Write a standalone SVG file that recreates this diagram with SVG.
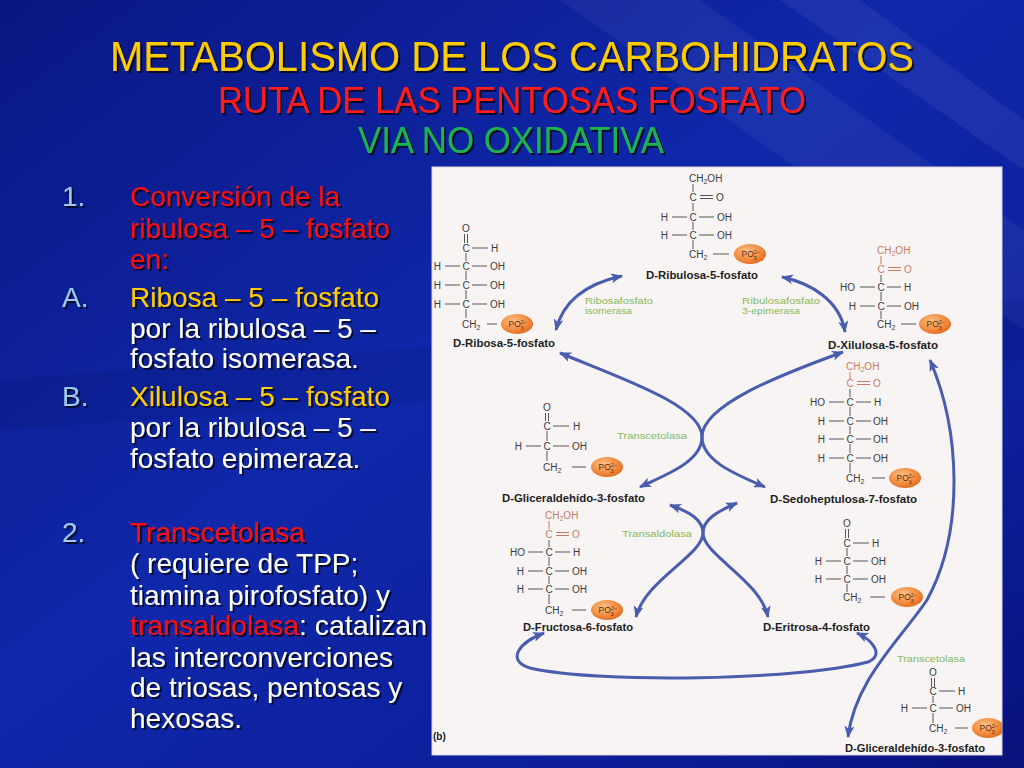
<svg xmlns="http://www.w3.org/2000/svg" width="1024" height="768" viewBox="0 0 1024 768">
<defs>
<linearGradient id="bg" x1="0" y1="0" x2="1" y2="1">
<stop offset="0" stop-color="#0a1682"/>
<stop offset="0.45" stop-color="#0f28aa"/>
<stop offset="0.75" stop-color="#0c1f9c"/>
<stop offset="1" stop-color="#08127c"/>
</linearGradient>
<radialGradient id="org" cx="0.4" cy="0.35" r="0.7">
<stop offset="0" stop-color="#fcc189"/>
<stop offset="0.6" stop-color="#f28d40"/>
<stop offset="1" stop-color="#e0691d"/>
</radialGradient>
<filter id="sh" x="-5%" y="-20%" width="110%" height="140%">
<feDropShadow dx="2" dy="2" stdDeviation="0.6" flood-color="#000" flood-opacity="0.7"/>
</filter>
<marker id="ah" viewBox="0 0 12 10" refX="11" refY="5" markerWidth="12" markerHeight="10" markerUnits="userSpaceOnUse" orient="auto-start-reverse">
<path d="M0,0 L12,5 L0,10 L3,5 z" fill="#4a5cae"/>
</marker>
<clipPath id="pc"><rect x="432" y="167" width="570" height="588"/></clipPath>
<style>
.tt{font-family:"Liberation Sans",Arial,sans-serif;text-anchor:middle}
.bt{font-family:"Liberation Sans",Arial,sans-serif;font-size:28px;fill:#ffffff}
.num{fill:#9ccbef}
.red{fill:#ff1010}
.yel{fill:#ffcc00}
.t{font-family:"Liberation Sans",Arial,sans-serif;font-size:10px;fill:#3b3b3b}
.e{text-anchor:end}
.m{text-anchor:middle}
.k{fill:#c97a62}
.bd{stroke:#555;stroke-width:1;fill:none}
.bk{stroke:#c97a62}
.sub{font-size:7px}
.lab{font-family:"Liberation Sans",Arial,sans-serif;font-size:10px;font-weight:bold;fill:#1e1e1e}
.enz{font-family:"Liberation Sans",Arial,sans-serif;font-size:9px;fill:#86b95a}
.pt{font-family:"Liberation Sans",Arial,sans-serif;font-size:8.5px;fill:#5b2a0e}
.ps{font-size:5.5px}
.arr{fill:none;stroke:#4a5cae;stroke-width:3;marker-start:url(#ah);marker-end:url(#ah)}
</style>
</defs>

<rect width="1024" height="768" fill="url(#bg)"/>
<path d="M560,0 L700,0 L1024,230 L1024,330 Z" fill="#ffffff" opacity="0.05"/>
<path d="M780,0 L860,0 L1024,120 L1024,170 Z" fill="#ffffff" opacity="0.06"/>
<path d="M0,380 L1024,300 L1024,360 L0,430 Z" fill="#000033" opacity="0.08"/>

<g id="title" filter="url(#sh)">
<text class="tt" x="512" y="71" font-size="42" fill="#ffcc00" textLength="804" lengthAdjust="spacingAndGlyphs">METABOLISMO DE LOS CARBOHIDRATOS</text>
<text class="tt" x="512" y="113" font-size="37" fill="#ff1a1a" textLength="588" lengthAdjust="spacingAndGlyphs">RUTA DE LAS PENTOSAS FOSFATO</text>
<text class="tt" x="511" y="153" font-size="37" fill="#1db350" textLength="306" lengthAdjust="spacingAndGlyphs">VIA NO OXIDATIVA</text>
</g>

<rect x="432" y="167" width="570" height="588" fill="#f8f4f4" stroke="#d8d4e0" stroke-width="1"/>

<g id="body" filter="url(#sh)">
<text class="bt num" x="62" y="206" font-size="24">1.</text>
<text class="bt red" x="130" y="206">Conversión de la</text>
<text class="bt red" x="130" y="238">ribulosa – 5 – fosfato</text>
<text class="bt red" x="130" y="269">en:</text>
<text class="bt num" x="62" y="307" font-size="26">A.</text>
<text class="bt yel" x="130" y="307">Ribosa – 5 – fosfato</text>
<text class="bt" x="130" y="338">por la ribulosa – 5 –</text>
<text class="bt" x="130" y="368">fosfato isomerasa.</text>
<text class="bt num" x="62" y="406" font-size="26">B.</text>
<text class="bt yel" x="130" y="406">Xilulosa – 5 – fosfato</text>
<text class="bt" x="130" y="437">por la ribulosa – 5 –</text>
<text class="bt" x="130" y="468">fosfato epimeraza.</text>
<text class="bt num" x="62" y="542" font-size="26">2.</text>
<text class="bt red" x="130" y="542">Transcetolasa</text>
<text class="bt" x="130" y="573">( requiere de TPP;</text>
<text class="bt" x="130" y="605">tiamina pirofosfato) y</text>
<text class="bt" x="130" y="635" textLength="297" lengthAdjust="spacingAndGlyphs"><tspan class="red">transaldolasa</tspan>: catalizan</text>
<text class="bt" x="130" y="667">las interconverciones</text>
<text class="bt" x="130" y="697">de triosas, pentosas y</text>
<text class="bt" x="130" y="728">hexosas.</text>
</g>

<g id="connectors">
<path class="arr" d="M556,330 C562,305 580,285 622,276"/>
<path class="arr" d="M782,277 C810,283 840,300 845,332"/>
<path class="arr" d="M560,353 C620,378 702,405 702,437 C702,462 665,475 640,487"/>
<path class="arr" d="M843,352 C780,375 702,405 702,437 C702,462 740,476 765,487"/>
<path class="arr" d="M670,505 C690,512 703,520 703,533 C703,555 645,580 636,617"/>
<path class="arr" d="M737,503 C716,512 703,520 703,533 C703,555 760,580 768,617"/>
<path class="arr" d="M544,633 C520,642 505,660 530,668 C600,684 800,680 868,662 C885,655 872,640 857,633"/>
<path class="arr" d="M930,360 C960,430 965,530 927,600 C900,640 855,680 848,737"/>
</g>

<g id="enzymes">
<text class="enz" x="585" y="304" textLength="68" lengthAdjust="spacingAndGlyphs">Ribosafosfato</text>
<text class="enz" x="585" y="314" textLength="47" lengthAdjust="spacingAndGlyphs">isomerasa</text>
<text class="enz" x="742" y="304" textLength="78" lengthAdjust="spacingAndGlyphs">Ribulosafosfato</text>
<text class="enz" x="742" y="314" textLength="58" lengthAdjust="spacingAndGlyphs">3-epimerasa</text>
<text class="enz" x="617" y="439" textLength="70" lengthAdjust="spacingAndGlyphs">Transcetolasa</text>
<text class="enz" x="622" y="537" textLength="70" lengthAdjust="spacingAndGlyphs">Transaldolasa</text>
<text class="enz" x="897" y="662" textLength="68" lengthAdjust="spacingAndGlyphs">Transcetolasa</text>
</g>

<g id="ribosa5p">
<text class="t m" x="466" y="231.6">O</text>
<path class="bd" d="M464.5,234V243M467.5,234V243"/>
<text class="t m" x="466" y="251.6">C</text>
<path class="bd" d="M472,248H488"/>
<text class="t" x="491" y="251.6">H</text>
<path class="bd" d="M466,253V261M466,271V280M466,290V299M466,309V318"/>
<text class="t e" x="441" y="269.6">H</text><text class="t m" x="466" y="269.6">C</text><text class="t" x="490" y="269.6">OH</text>
<text class="t e" x="441" y="288.6">H</text><text class="t m" x="466" y="288.6">C</text><text class="t" x="490" y="288.6">OH</text>
<text class="t e" x="441" y="307.6">H</text><text class="t m" x="466" y="307.6">C</text><text class="t" x="490" y="307.6">OH</text>
<path class="bd" d="M445,266H460M472,266H487M445,285H460M472,285H487M445,304H460M472,304H487"/>
<text class="t" x="462" y="327.6">CH<tspan class="sub" dy="2.5">2</tspan></text>
<path class="bd" d="M487,324H497"/>
<ellipse cx="517" cy="324" rx="16" ry="10" fill="url(#org)"/>
<text class="pt" x="508.5" y="327">PO<tspan class="ps" dy="-3">2−</tspan><tspan class="ps" dx="-6.5" dy="5.5">3</tspan></text>
<text class="lab" x="453" y="346.5" textLength="102" lengthAdjust="spacingAndGlyphs">D-Ribosa-5-fosfato</text>
</g>

<g id="ribulosa5p">
<text class="t" x="689" y="181.6">CH<tspan class="sub" dy="2.5">2</tspan><tspan dy="-2.5">OH</tspan></text>
<path class="bd" d="M693,184V192M693,203V211M693,222V230M693,240V249"/>
<text class="t m" x="693" y="200.6">C</text>
<path class="bd" d="M700,195.5H713M700,198.5H713"/>
<text class="t" x="716" y="200.6">O</text>
<text class="t e" x="668" y="220.6">H</text><text class="t m" x="693" y="220.6">C</text><text class="t" x="717" y="220.6">OH</text>
<text class="t e" x="668" y="238.6">H</text><text class="t m" x="693" y="238.6">C</text><text class="t" x="717" y="238.6">OH</text>
<path class="bd" d="M672,217H687M699,217H714M672,235H687M699,235H714"/>
<text class="t" x="689" y="257.6">CH<tspan class="sub" dy="2.5">2</tspan></text>
<path class="bd" d="M713,254H729"/>
<ellipse cx="750" cy="254" rx="16" ry="10" fill="url(#org)"/>
<text class="pt" x="741.5" y="257">PO<tspan class="ps" dy="-3">2−</tspan><tspan class="ps" dx="-6.5" dy="5.5">3</tspan></text>
<text class="lab" x="646" y="278.5" textLength="112" lengthAdjust="spacingAndGlyphs">D-Ribulosa-5-fosfato</text>
</g>

<g id="xilulosa5p">
<text class="t k" x="877" y="253.6">CH<tspan class="sub" dy="2.5">2</tspan><tspan dy="-2.5">OH</tspan></text>
<path class="bd bk" d="M881,256V264"/>
<text class="t m k" x="881" y="272.6">C</text>
<path class="bd bk" d="M888,267.5H901M888,270.5H901"/>
<text class="t k" x="904" y="272.6">O</text>
<path class="bd" d="M881,275V282M881,292V301M881,311V319"/>
<text class="t e" x="855" y="290.6">HO</text><text class="t m" x="881" y="290.6">C</text><text class="t" x="904" y="290.6">H</text>
<text class="t e" x="856" y="309.6">H</text><text class="t m" x="881" y="309.6">C</text><text class="t" x="904" y="309.6">OH</text>
<path class="bd" d="M860,287H875M887,287H901M860,306H875M887,306H901"/>
<text class="t" x="877" y="327.6">CH<tspan class="sub" dy="2.5">2</tspan></text>
<path class="bd" d="M901,324H916"/>
<ellipse cx="935" cy="324" rx="16" ry="10" fill="url(#org)"/>
<text class="pt" x="926.5" y="327">PO<tspan class="ps" dy="-3">2−</tspan><tspan class="ps" dx="-6.5" dy="5.5">3</tspan></text>
<text class="lab" x="828" y="348.5" textLength="110" lengthAdjust="spacingAndGlyphs">D-Xilulosa-5-fosfato</text>
</g>

<g id="gliceraldehido3p-a">
<text class="t m" x="547" y="410.6">O</text>
<path class="bd" d="M545.5,413V421M548.5,413V421"/>
<text class="t m" x="547" y="429.6">C</text>
<path class="bd" d="M553,426H569"/>
<text class="t" x="573" y="429.6">H</text>
<path class="bd" d="M547,431V441M547,451V461"/>
<text class="t e" x="522" y="449.6">H</text><text class="t m" x="547" y="449.6">C</text><text class="t" x="572" y="449.6">OH</text>
<path class="bd" d="M526,446H541M553,446H569"/>
<text class="t" x="543" y="470.6">CH<tspan class="sub" dy="2.5">2</tspan></text>
<path class="bd" d="M572,467H586"/>
<ellipse cx="607" cy="467" rx="16" ry="10" fill="url(#org)"/>
<text class="pt" x="598.5" y="470">PO<tspan class="ps" dy="-3">2−</tspan><tspan class="ps" dx="-6.5" dy="5.5">3</tspan></text>
<text class="lab" x="502" y="501.5" textLength="143" lengthAdjust="spacingAndGlyphs">D-Gliceraldehído-3-fosfato</text>
</g>

<g id="sedoheptulosa7p">
<text class="t k" x="846" y="369.6">CH<tspan class="sub" dy="2.5">2</tspan><tspan dy="-2.5">OH</tspan></text>
<path class="bd bk" d="M850,372V379"/>
<text class="t m k" x="850" y="386.6">C</text>
<path class="bd bk" d="M857,381.5H870M857,384.5H870"/>
<text class="t k" x="873" y="386.6">O</text>
<path class="bd" d="M850,389V397M850,407V416M850,426V434M850,444V453M850,463V473"/>
<text class="t e" x="825" y="405.6">HO</text><text class="t m" x="850" y="405.6">C</text><text class="t" x="874" y="405.6">H</text>
<text class="t e" x="825" y="424.6">H</text><text class="t m" x="850" y="424.6">C</text><text class="t" x="873" y="424.6">OH</text>
<text class="t e" x="825" y="442.6">H</text><text class="t m" x="850" y="442.6">C</text><text class="t" x="873" y="442.6">OH</text>
<text class="t e" x="825" y="461.6">H</text><text class="t m" x="850" y="461.6">C</text><text class="t" x="873" y="461.6">OH</text>
<path class="bd" d="M829,402H844M856,402H871M829,421H844M856,421H871M829,439H844M856,439H871M829,458H844M856,458H871"/>
<text class="t" x="846" y="481.6">CH<tspan class="sub" dy="2.5">2</tspan></text>
<path class="bd" d="M872,478H885"/>
<ellipse cx="905" cy="478" rx="16" ry="10" fill="url(#org)"/>
<text class="pt" x="896.5" y="481">PO<tspan class="ps" dy="-3">2−</tspan><tspan class="ps" dx="-6.5" dy="5.5">3</tspan></text>
<text class="lab" x="770" y="502.5" textLength="147" lengthAdjust="spacingAndGlyphs">D-Sedoheptulosa-7-fosfato</text>
</g>

<g id="fructosa6p">
<text class="t k" x="545" y="518.6">CH<tspan class="sub" dy="2.5">2</tspan><tspan dy="-2.5">OH</tspan></text>
<path class="bd bk" d="M549,521V529"/>
<text class="t m k" x="549" y="537.6">C</text>
<path class="bd bk" d="M556,532.5H569M556,535.5H569"/>
<text class="t k" x="572" y="537.6">O</text>
<path class="bd" d="M549,540V547M549,557V566M549,576V584M549,594V604"/>
<text class="t e" x="525" y="555.6">HO</text><text class="t m" x="549" y="555.6">C</text><text class="t" x="573" y="555.6">H</text>
<text class="t e" x="524" y="574.6">H</text><text class="t m" x="549" y="574.6">C</text><text class="t" x="572" y="574.6">OH</text>
<text class="t e" x="524" y="592.6">H</text><text class="t m" x="549" y="592.6">C</text><text class="t" x="572" y="592.6">OH</text>
<path class="bd" d="M528,552H543M555,552H570M528,571H543M555,571H569M528,589H543M555,589H569"/>
<text class="t" x="545" y="613.6">CH<tspan class="sub" dy="2.5">2</tspan></text>
<path class="bd" d="M572,610H586"/>
<ellipse cx="607" cy="610" rx="16" ry="10" fill="url(#org)"/>
<text class="pt" x="598.5" y="613">PO<tspan class="ps" dy="-3">2−</tspan><tspan class="ps" dx="-6.5" dy="5.5">3</tspan></text>
<text class="lab" x="523" y="630.5" textLength="110" lengthAdjust="spacingAndGlyphs">D-Fructosa-6-fosfato</text>
</g>

<g id="eritrosa4p">
<text class="t m" x="847" y="526.6">O</text>
<path class="bd" d="M845.5,529V538M848.5,529V538"/>
<text class="t m" x="847" y="546.6">C</text>
<path class="bd" d="M853,543H869"/>
<text class="t" x="872" y="546.6">H</text>
<path class="bd" d="M847,548V556M847,566V574M847,584V592"/>
<text class="t e" x="822" y="564.6">H</text><text class="t m" x="847" y="564.6">C</text><text class="t" x="871" y="564.6">OH</text>
<text class="t e" x="822" y="582.6">H</text><text class="t m" x="847" y="582.6">C</text><text class="t" x="871" y="582.6">OH</text>
<path class="bd" d="M826,561H841M853,561H868M826,579H841M853,579H868"/>
<text class="t" x="843" y="600.6">CH<tspan class="sub" dy="2.5">2</tspan></text>
<path class="bd" d="M870,597H885"/>
<ellipse cx="907" cy="597" rx="16" ry="10" fill="url(#org)"/>
<text class="pt" x="898.5" y="600">PO<tspan class="ps" dy="-3">2−</tspan><tspan class="ps" dx="-6.5" dy="5.5">3</tspan></text>
<text class="lab" x="763" y="630.5" textLength="107" lengthAdjust="spacingAndGlyphs">D-Eritrosa-4-fosfato</text>
</g>

<g id="gliceraldehido3p-b" clip-path="url(#pc)">
<text class="t m" x="933" y="675.6">O</text>
<path class="bd" d="M931.5,678V687M934.5,678V687"/>
<text class="t m" x="933" y="694.6">C</text>
<path class="bd" d="M939,691H955"/>
<text class="t" x="958" y="694.6">H</text>
<path class="bd" d="M933,696V703M933,713V723"/>
<text class="t e" x="908" y="711.6">H</text><text class="t m" x="933" y="711.6">C</text><text class="t" x="956" y="711.6">OH</text>
<path class="bd" d="M912,708H927M939,708H953"/>
<text class="t" x="929" y="731.6">CH<tspan class="sub" dy="2.5">2</tspan></text>
<path class="bd" d="M955,728H968"/>
<ellipse cx="988" cy="728" rx="16" ry="10" fill="url(#org)"/>
<text class="pt" x="979.5" y="731">PO<tspan class="ps" dy="-3">2−</tspan><tspan class="ps" dx="-6.5" dy="5.5">3</tspan></text>
<text class="lab" x="845" y="751.5" textLength="140" lengthAdjust="spacingAndGlyphs">D-Gliceraldehído-3-fosfato</text>
</g>

<text class="lab" x="433" y="740" font-size="9">(b)</text>
</svg>
